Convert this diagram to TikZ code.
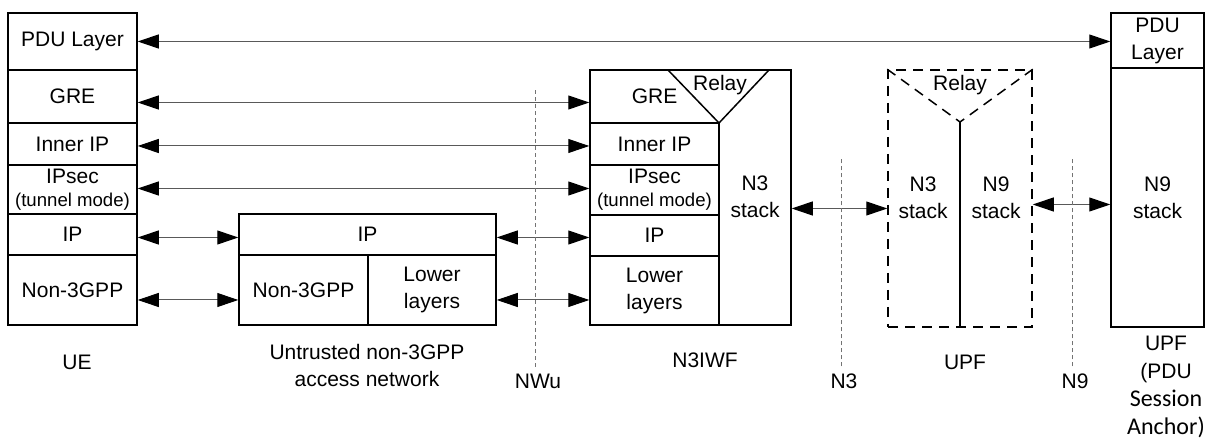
\documentclass[tikz,border=0pt]{standalone}
\usepackage{fontspec}
\setmainfont{Liberation Sans}
\newfontfamily\calfont{Carlito}
\usetikzlibrary{arrows.meta}
\begin{document}
\begin{tikzpicture}[x=0.5pt,y=-0.5pt,font=\fontsize{10.5}{13.5}\selectfont,
cell/.style 2 args={draw,line width=0.75pt,inner sep=0pt,align=center,minimum width=#1*0.5pt,minimum height=#2*0.5pt},
link/.style={{Triangle[length=10.5pt,width=7pt,color=black]}-{Triangle[length=10.5pt,width=7pt,color=black]},line width=0.5pt,draw=black!65},
refline/.style={draw=black!55,line width=0.5pt,dash pattern=on 2pt off 1.5pt},
small/.style={font=\fontsize{9.3}{11}\selectfont}]
\useasboundingbox (0,0) rectangle (1205,442);
\node[cell={129}{57}] (ue-pdu) at (72.5,41.5) {PDU Layer};
\node[cell={129}{53}] (ue-gre) at (72.5,96.5) {GRE};
\node[cell={129}{42}] (ue-inner) at (72.5,144) {Inner IP};
\node[cell={129}{49}] (ue-ipsec) at (72.5,189.5) {IPsec\\[-2pt]{\fontsize{9.3}{11}\selectfont(tunnel mode)}};
\node[cell={129}{41}] (ue-ip) at (72.5,234.5) {IP};
\node[cell={129}{70}] (ue-l1) at (72.5,290) {Non-3GPP};
\node[cell={257}{41}] (an-ip) at (367.5,234.5) {IP};
\node[cell={129}{70}] (an-l1) at (303.5,290) {Non-3GPP};
\node[cell={128}{70}] (an-l2) at (432,290) {Lower\\layers};
\node[cell={201}{255}] (iwf) at (690.5,197.5) {};
\node[cell={129}{53},draw=none] (iwf-gre) at (654.5,96.5) {GRE};
\node[cell={129}{42}] (iwf-inner) at (654.5,144) {Inner IP};
\node[cell={129}{50}] (iwf-ipsec) at (654.5,190) {IPsec\\[-2pt]{\fontsize{9.3}{11}\selectfont(tunnel mode)}};
\node[cell={129}{41}] (iwf-ip) at (654.5,235.5) {IP};
\node[cell={129}{69}] (iwf-low) at (654.5,290.5) {Lower\\layers};
\draw[line width=0.75pt] (668,70) -- (719,123) -- (769,70);
\draw[line width=0.75pt] (719,123) -- (iwf.south -| 719,0);
\node (iwf-relay) at (720,85) {Relay};
\node[align=center] (iwf-n3) at (755,197) {N3\\stack};
\node[cell={144}{257},dash pattern=on 5pt off 3.5pt] (upf) at (960,198.5) {};
\coordinate (upf-apex) at (960,122);
\draw[line width=0.75pt,dash pattern=on 5pt off 3.5pt] (upf.north west) -- (upf-apex) -- (upf.north east);
\draw[line width=0.75pt] (upf-apex) -- (upf.south);
\node (upf-relay) at (960,85) {Relay};
\node[align=center] (upf-n3) at (923,198) {N3\\stack};
\node[align=center] (upf-n9) at (996,198) {N9\\stack};
\node[cell={93}{55}] (psa-pdu) at (1157.5,40.5) {PDU\\Layer};
\node[cell={93}{259}] (psa-n9) at (1157.5,197.5) {N9\\stack};
\draw[link] (ue-pdu.east) -- (ue-pdu.east -| psa-pdu.west);
\draw[link] ([yshift=-3pt]ue-gre.east) -- ([yshift=-3pt]ue-gre.east -| iwf-gre.west);
\draw[link] ([yshift=-1pt]ue-inner.east) -- ([yshift=-1pt]ue-inner.east -| iwf-inner.west);
\draw[link] ([yshift=0.5pt]ue-ipsec.east) -- ([yshift=0.5pt]ue-ipsec.east -| iwf-ipsec.west);
\draw[link] ([yshift=-1.5pt]ue-ip.east) -- ([yshift=-1.5pt]ue-ip.east -| an-ip.west);
\draw[link] ([yshift=-1.5pt]an-ip.east) -- ([yshift=-1.5pt]an-ip.east -| iwf-ip.west);
\draw[link] ([yshift=-5pt]ue-l1.east) -- ([yshift=-5pt]ue-l1.east -| an-l1.west);
\draw[link] ([yshift=-5pt]an-l2.east) -- ([yshift=-5pt]an-l2.east -| iwf-low.west);
\draw[link] ([yshift=-5.5pt]iwf.east) -- ([yshift=-5.5pt]iwf.east -| upf.west);
\draw[link] ([yshift=-3pt]upf.east) -- ([yshift=-3pt]upf.east -| psa-n9.west);
\node (ue-name) at (77,362) {UE};
\node[align=center] (an-name) at (367,365.5) {Untrusted non-3GPP\\access network};
\node (iwf-name) at (705,360) {N3IWF};
\node (upf-name) at (965,362) {UPF};
\node[align=center,font=\fontsize{10.5}{14}\selectfont] (psa-name) at (1166,387) {UPF\\(PDU\\{\calfont\fontsize{12}{14}\selectfont Session}\\{\calfont\fontsize{12}{14}\selectfont Anchor)}};
\node (nwu) at (538,381) {NWu};
\node (n3) at (844,381) {N3};
\node (n9) at (1075,381) {N9};
\coordinate (nwu-top) at (535,87);
\coordinate (n3-top) at (841,157);
\coordinate (n9-top) at (1072,157);
\draw[refline] (nwu.north -| nwu-top) -- (nwu-top);
\draw[refline] (n3.north -| n3-top) -- (n3-top);
\draw[refline] (n9.north -| n9-top) -- (n9-top);
\end{tikzpicture}
\end{document}
